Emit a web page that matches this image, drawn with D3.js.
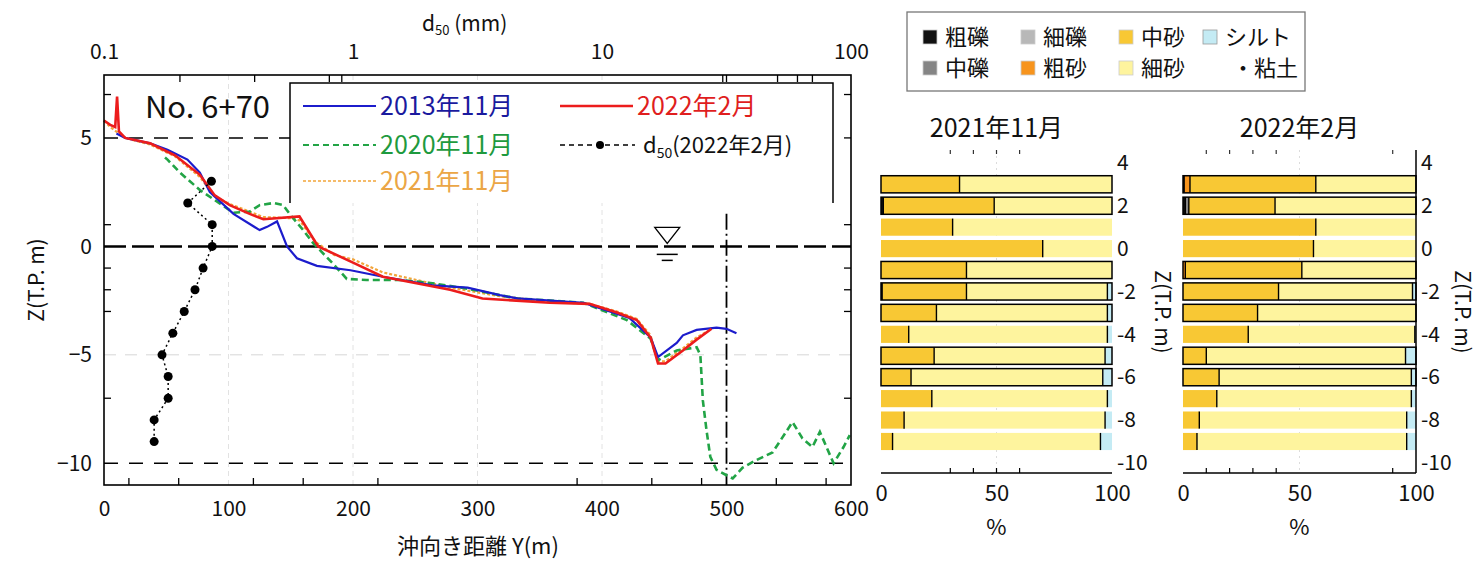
<!DOCTYPE html>
<html>
<head>
<meta charset="utf-8">
<script src="https://cdn.jsdelivr.net/npm/d3@7"></script>
<style>
  body { margin: 0; background: #fff; }
  svg { display: block; font-family: "Noto Sans CJK JP", sans-serif; }
</style>
</head>
<body>
<svg id="viz" width="1478" height="565"></svg>
<script>
// ---- cross-shore profiles: distance Y (m) and elevation Z (T.P. m) ----
const y2013 = [10, 17, 37, 51, 67, 77, 85, 104, 125, 131, 139, 147, 155, 171, 198, 224, 264, 292, 318, 332, 385, 422, 439, 445, 460, 465, 476, 492, 500, 508];
const z2013 = [5.2, 5.0, 4.75, 4.45, 4.0, 3.4, 2.5, 1.5, 0.75, 0.9, 1.15, 0.0, -0.55, -0.9, -1.1, -1.4, -1.8, -1.9, -2.25, -2.4, -2.6, -3.3, -4.2, -5.1, -4.45, -4.1, -3.85, -3.75, -3.8, -4.0];

const y2020 = [49, 51, 61, 77, 104, 117, 125, 136, 144, 149, 160, 168, 184, 195, 211, 238, 264, 292, 318, 332, 385, 420, 439, 445, 460, 476, 479, 481, 484, 487, 492, 500, 505, 513, 524, 537, 553, 561, 569, 575, 586, 594, 599];
const z2020 = [4.1, 4.0, 3.4, 2.6, 1.55, 1.6, 1.9, 2.0, 1.9, 1.5, 0.75, 0.15, -0.8, -1.5, -1.55, -1.55, -1.7, -1.95, -2.25, -2.4, -2.6, -3.4, -4.25, -5.25, -4.8, -4.65, -5.0, -7.1, -8.5, -9.7, -10.3, -10.55, -10.7, -10.2, -9.85, -9.5, -8.1, -8.85, -9.25, -8.55, -10.0, -9.25, -8.7];

const y2021 = [0, 5, 12, 17, 37, 57, 77, 89, 101, 117, 128, 150, 157, 170, 185, 200, 224, 251, 278, 318, 358, 390, 412, 428, 439, 445, 451, 465, 476, 485];
const z2021 = [5.8, 5.5, 5.2, 5.0, 4.7, 4.15, 3.2, 2.3, 1.95, 1.6, 1.35, 1.3, 1.2, 0.2, -0.4, -0.6, -1.2, -1.55, -1.9, -2.3, -2.55, -2.65, -3.0, -3.35, -4.1, -5.3, -5.3, -4.7, -4.2, -3.9];

const y2022 = [0, 5, 9, 10.5, 12, 17, 37, 57, 77, 89, 101, 117, 128, 157, 172, 200, 224, 251, 278, 304, 358, 390, 412, 428, 439, 445, 451, 465, 476, 488];
const z2022 = [5.8, 5.6, 5.5, 6.9, 5.3, 5.0, 4.75, 4.2, 3.3, 2.35, 1.9, 1.5, 1.25, 1.38, 0.0, -0.75, -1.4, -1.7, -2.0, -2.4, -2.6, -2.65, -3.05, -3.4, -4.2, -5.4, -5.4, -4.8, -4.3, -3.8];

// ---- median grain size d50 (mm), Feb 2022, by sampling depth ----
const sampleZ = [3, 2, 1, 0, -1, -2, -3, -4, -5, -6, -7, -8, -9];
const d50 = [0.27, 0.217, 0.272, 0.272, 0.25, 0.232, 0.21, 0.189, 0.171, 0.181, 0.181, 0.159, 0.159];

// ---- grain composition (%), same depths ----
const grainKeys = ['粗礫', '中礫', '細礫', '粗砂', '中砂', '細砂', 'シルト・粘土'];
const coarseGravel2111 = [0, 1, 0, 0, 0, 0.5, 0, 0, 0, 0, 0, 0, 0];
const mediumGravel2111 = [0, 0, 0, 0, 0, 0, 0, 0, 0, 0, 0, 0, 0];
const fineGravel2111   = [0, 0, 0, 0, 0, 0, 0, 0, 0, 0, 0, 0, 0];
const coarseSand2111   = [0, 0, 0, 0, 0, 0, 0, 0, 0, 0, 0, 0, 0];
const mediumSand2111   = [34, 48, 31, 70, 37, 36.5, 24, 12, 23, 13, 22, 10, 5];
const fineSand2111     = [66, 51, 69, 30, 63, 61, 74, 86, 74, 83, 76, 87, 90];
const silt2111         = [0, 0, 0, 0, 0, 2, 2, 2, 3, 4, 2, 3, 5];

const coarseGravel2202 = [0.5, 1, 0, 0, 0, 0, 0, 0, 0, 0, 0, 0, 0];
const mediumGravel2202 = [0, 1.5, 0, 0, 0, 0, 0, 0, 0, 0, 0, 0, 0];
const fineGravel2202   = [0, 0, 0, 0, 0, 0, 0, 0, 0, 0, 0, 0, 0];
const coarseSand2202   = [2.5, 0, 0, 0, 1, 0, 0, 0, 0, 0, 0, 0, 0];
const mediumSand2202   = [54, 37, 57, 56, 50, 41, 32, 28, 10, 15.5, 14.5, 7, 6];
const fineSand2202     = [43, 60.5, 43, 44, 49, 57.5, 68, 71.5, 85.5, 82.5, 83.5, 89, 90];
const silt2202         = [0, 0, 0, 0, 0, 1.5, 0, 0.5, 4.5, 2, 2, 4, 4];

// ---- tick values ----
const distTicks = [0, 100, 200, 300, 400, 500, 600];
const elevTicks = [5, 0, -5, -10];
const d50Ticks = [0.1, 1, 10, 100];
const bottomMinor = [20, 60, 120, 160, 220, 380, 440, 480, 540, 580];
const topMinor = [61, 121, 181, 191, 497, 500, 541, 557, 569];
const leftMinor = [7, 1, -1, -2, -3, -7];
const rightMinor = [7, 5, 1, -1, -2, -3, -7];
const pctTicks = [0, 50, 100];
const barZTicks = [4, 2, 0, -2, -4, -6, -8, -10];

const grainColor = {
  '粗礫': '#111111', '中礫': '#858585', '細礫': '#b8b8b8', '粗砂': '#f7941d',
  '中砂': '#f8c834', '細砂': '#fef49e', 'シルト・粘土': '#c4ebf4'
};

const svg = d3.select('#viz');
const FONT_NUM = '"Liberation Sans Narrow", "Noto Sans CJK JP", sans-serif';

// ================= left: profile chart =================
const x = d3.scaleLinear().domain([0, 600]).range([104, 851]);
const xd = d3.scaleLog().domain([0.1, 100]).range([104, 851]);
const y = d3.scaleLinear().domain([-11, 7.9]).range([485, 75]);
const plotTop = y.range()[1], plotBot = y.range()[0];

const grid = svg.append('g');
grid.selectAll('line').data([100, 200, 300, 400]).join('line')
  .attr('x1', d => x(d)).attr('x2', d => x(d)).attr('y1', plotTop).attr('y2', plotBot)
  .attr('stroke', '#e2e2e2').attr('stroke-dasharray', '5,4');
grid.append('line').attr('x1', x(0)).attr('x2', x(600)).attr('y1', y(-5)).attr('y2', y(-5))
  .attr('stroke', '#d6d6d6').attr('stroke-dasharray', '12,9');

// reference lines
svg.append('line').attr('x1', x(0)).attr('x2', x(600)).attr('y1', y(0)).attr('y2', y(0))
  .attr('stroke', '#000').attr('stroke-width', 2.5).attr('stroke-dasharray', '22,6');
svg.append('line').attr('x1', x(0)).attr('x2', x(600)).attr('y1', y(-10)).attr('y2', y(-10))
  .attr('stroke', '#000').attr('stroke-width', 1.5).attr('stroke-dasharray', '14,11');
svg.append('line').attr('x1', x(0)).attr('x2', x(150)).attr('y1', y(5)).attr('y2', y(5))
  .attr('stroke', '#000').attr('stroke-width', 1.5).attr('stroke-dasharray', '14,11');
svg.append('line').attr('x1', x(500)).attr('x2', x(500)).attr('y1', y(1.5)).attr('y2', plotBot)
  .attr('stroke', '#000').attr('stroke-width', 1.8).attr('stroke-dasharray', '16,4,2,4');

// water level mark
const wl = svg.append('g').attr('transform', `translate(${x(452)},${y(0)})`);
wl.append('path').attr('d', 'M-12,-19 L13,-19 L0.5,-3 Z').attr('fill', '#fff').attr('stroke', '#000').attr('stroke-width', 1.3);
wl.append('line').attr('x1', -10).attr('x2', 11).attr('y1', 8).attr('y2', 8).attr('stroke', '#000').attr('stroke-width', 1.5);
wl.append('line').attr('x1', -5).attr('x2', 6).attr('y1', 14).attr('y2', 14).attr('stroke', '#000').attr('stroke-width', 1.5);

// profile lines
const line = d3.line().x(d => x(d[0])).y(d => y(d[1]));
const series = [
  { Y: y2021, Z: z2021, color: '#f2a53a', width: 2.2, dash: '3,2' },
  { Y: y2020, Z: z2020, color: '#22a446', width: 2.6, dash: '7,4' },
  { Y: y2013, Z: z2013, color: '#1c1ccc', width: 2.2, dash: null },
  { Y: y2022, Z: z2022, color: '#ec1c1c', width: 2.6, dash: null }
];
svg.append('g').selectAll('path').data(series).join('path')
  .attr('d', s => line(d3.zip(s.Y, s.Z)))
  .attr('fill', 'none').attr('stroke', s => s.color).attr('stroke-width', s => s.width)
  .attr('stroke-dasharray', s => s.dash);

// d50 profile
const d50pts = d3.zip(d50, sampleZ);
svg.append('path').attr('d', d3.line().x(d => xd(d[0])).y(d => y(d[1]))(d50pts))
  .attr('fill', 'none').attr('stroke', '#000').attr('stroke-width', 1.5).attr('stroke-dasharray', '2,3');
svg.append('g').selectAll('circle').data(d50pts).join('circle')
  .attr('cx', d => xd(d[0])).attr('cy', d => y(d[1])).attr('r', 4.5).attr('fill', '#000');

// legend
const lg = svg.append('g');
lg.append('rect').attr('x', 290).attr('y', 83).attr('width', 543).attr('height', 120).attr('fill', '#fff');
lg.append('path').attr('d', 'M290,203 V83 H833 V203').attr('fill', 'none').attr('stroke', '#000').attr('stroke-width', 1.5);
const legendItems = [
  { label: '2013年11月', color: '#1c1ccc', text: '#1a1a9e', lx: 303, ly: 106, dash: null, w: 2 },
  { label: '2020年11月', color: '#22a446', text: '#1e9a3e', lx: 303, ly: 145, dash: '6,4', w: 2 },
  { label: '2021年11月', color: '#f2a53a', text: '#eba646', lx: 303, ly: 181, dash: '3,2', w: 1.6 },
  { label: '2022年2月', color: '#ec1c1c', text: '#e01e1e', lx: 560, ly: 106, dash: null, w: 2.5 }
];
legendItems.forEach(d => {
  lg.append('line').attr('x1', d.lx).attr('x2', d.lx + 73).attr('y1', d.ly).attr('y2', d.ly)
    .attr('stroke', d.color).attr('stroke-width', d.w).attr('stroke-dasharray', d.dash);
  lg.append('text').attr('x', d.lx + 77).attr('y', d.ly).attr('dy', '0.36em')
    .attr('font-size', 25).attr('fill', d.text).text(d.label);
});
lg.append('line').attr('x1', 560).attr('x2', 635).attr('y1', 145).attr('y2', 145)
  .attr('stroke', '#000').attr('stroke-width', 1.5).attr('stroke-dasharray', '5,4');
lg.append('circle').attr('cx', 600).attr('cy', 145).attr('r', 4).attr('fill', '#000');
const dl = lg.append('text').attr('x', 643).attr('y', 145).attr('dy', '0.36em').attr('font-size', 22).attr('fill', '#111');
dl.append('tspan').text('d');
dl.append('tspan').attr('font-size', 14).attr('dy', 5).text('50');
dl.append('tspan').attr('dy', -5).text('(2022年2月)');

svg.append('text').attr('x', 145).attr('y', 107).attr('dy', '0.36em').attr('font-size', 30)
  .attr('font-family', FONT_NUM).attr('textLength', 125).attr('lengthAdjust', 'spacingAndGlyphs')
  .attr('fill', '#111').text('No. 6+70');

// frame and axes
svg.append('rect').attr('x', x(0)).attr('y', plotTop).attr('width', x(600) - x(0)).attr('height', plotBot - plotTop)
  .attr('fill', 'none').attr('stroke', '#000').attr('stroke-width', 1.6);

function styleAxis(g, size) {
  g.select('.domain').remove();
  g.selectAll('text').attr('font-size', size).attr('font-family', FONT_NUM).attr('fill', '#111');
}
svg.append('g').attr('transform', `translate(0,${plotBot})`)
  .call(d3.axisBottom(x).tickValues(distTicks).tickSize(0).tickPadding(16).tickFormat(d3.format('d')))
  .call(g => styleAxis(g, 21));
svg.append('g').attr('transform', `translate(${x(0)},0)`)
  .call(d3.axisLeft(y).tickValues(elevTicks).tickSize(0).tickPadding(12).tickFormat(d3.format('d')))
  .call(g => styleAxis(g, 21));
svg.append('g').attr('transform', `translate(0,${plotTop})`)
  .call(d3.axisTop(xd).tickValues(d50Ticks).tickSize(0).tickPadding(16).tickFormat(d => d < 1 ? '0.1' : String(d)))
  .call(g => styleAxis(g, 21));

// minor inward ticks
const mt = svg.append('g').attr('stroke', '#000').attr('stroke-width', 1.3);
mt.selectAll('.b').data(bottomMinor).join('line').attr('x1', d => x(d)).attr('x2', d => x(d)).attr('y1', plotBot).attr('y2', plotBot - 7);
mt.selectAll('.t').data(topMinor).join('line').attr('x1', d => x(d)).attr('x2', d => x(d)).attr('y1', plotTop).attr('y2', plotTop + 7);
mt.selectAll('.l').data(leftMinor).join('line').attr('x1', x(0)).attr('x2', x(0) + 7).attr('y1', d => y(d)).attr('y2', d => y(d));
mt.selectAll('.r').data(rightMinor).join('line').attr('x1', x(600)).attr('x2', x(600) - 7).attr('y1', d => y(d)).attr('y2', d => y(d));

// titles
const t50 = svg.append('text').attr('x', 422).attr('y', 31).attr('font-size', 21).attr('fill', '#111');
t50.append('tspan').text('d');
t50.append('tspan').attr('font-size', 13).attr('dy', 4).text('50');
t50.append('tspan').attr('dy', -4).text('  (mm)');
svg.append('text').attr('x', 478).attr('y', 546).attr('dy', '0.36em').attr('text-anchor', 'middle')
  .attr('font-size', 22).attr('fill', '#111').text('沖向き距離 Y(m)');
svg.append('text').attr('transform', 'translate(36,280) rotate(-90)').attr('dy', '0.36em').attr('text-anchor', 'middle')
  .attr('font-size', 21).attr('fill', '#111').text('Z(T.P. m)');

// ================= right: composition bars =================
const yb = d3.scaleLinear().domain([-10.47, 4.6]).range([473, 150]);
const stack = d3.stack().keys(grainKeys);
const boxedDepths = [3, 2, -1, -2, -3, -5, -6];

function composition(cols) {
  return sampleZ.map((z, i) => {
    const row = { z };
    grainKeys.forEach((k, j) => { row[k] = cols[j][i]; });
    return row;
  });
}

function barChart(rows, x0, x1, title, minor, showAxisLine, labelX) {
  const xb = d3.scaleLinear().domain([0, 100]).range([x0, x1]);
  const g = svg.append('g');
  g.append('line').attr('x1', xb(50)).attr('x2', xb(50)).attr('y1', 150).attr('y2', 473)
    .attr('stroke', '#dcdcdc').attr('stroke-dasharray', '2,4');
  const layers = stack(rows);
  const bh = yb(0) - yb(0.8);
  g.selectAll('.layer').data(layers).join('g').attr('fill', l => grainColor[l.key])
    .selectAll('rect').data(l => l).join('rect')
    .attr('x', d => xb(d[0])).attr('width', d => xb(d[1]) - xb(d[0]))
    .attr('y', d => yb(d.data.z) - bh / 2).attr('height', bh);
  // segment separators
  rows.forEach(r => {
    let acc = 0;
    const ends = [];
    grainKeys.forEach(k => { acc += r[k]; if (r[k] > 0) ends.push(acc); });
    ends.slice(0, -1).forEach(e => {
      g.append('line').attr('x1', xb(e)).attr('x2', xb(e))
        .attr('y1', yb(r.z) - bh / 2).attr('y2', yb(r.z) + bh / 2)
        .attr('stroke', '#000').attr('stroke-width', 1.4);
    });
    if (boxedDepths.includes(r.z)) {
      g.append('rect').attr('x', xb(0)).attr('width', xb(100) - xb(0))
        .attr('y', yb(r.z) - bh / 2).attr('height', bh)
        .attr('fill', 'none').attr('stroke', '#000').attr('stroke-width', 1.5);
    }
  });
  g.append('line').attr('x1', xb(0)).attr('x2', xb(100)).attr('y1', 473).attr('y2', 473)
    .attr('stroke', '#000').attr('stroke-width', 1.5);
  if (showAxisLine) {
    g.append('line').attr('x1', xb(100)).attr('x2', xb(100)).attr('y1', 150).attr('y2', 473)
      .attr('stroke', '#000').attr('stroke-width', 1.5);
  }
  g.selectAll('.mb').data(minor).join('line').attr('x1', d => xb(d)).attr('x2', d => xb(d))
    .attr('y1', 473).attr('y2', 468).attr('stroke', '#000').attr('stroke-width', 1.2);
  g.selectAll('.mt').data(minor).join('line').attr('x1', d => xb(d)).attr('x2', d => xb(d))
    .attr('y1', 150).attr('y2', 154).attr('stroke', '#333').attr('stroke-width', 1.2);

  g.append('g').attr('transform', 'translate(0,473)')
    .call(d3.axisBottom(xb).tickValues(pctTicks).tickSize(0).tickPadding(12).tickFormat(d3.format('d')))
    .call(a => styleAxis(a, 22));
  g.append('g').attr('transform', `translate(${xb(100)},0)`)
    .call(d3.axisRight(yb).tickValues(barZTicks).tickSize(0).tickPadding(5).tickFormat(d => String(d)))
    .call(a => styleAxis(a, 21));
  g.append('text').attr('x', (x0 + x1) / 2).attr('y', 527).attr('dy', '0.36em').attr('text-anchor', 'middle')
    .attr('font-size', 22).attr('fill', '#111').text('%');
  g.append('text').attr('x', (x0 + x1) / 2).attr('y', 128).attr('dy', '0.36em').attr('text-anchor', 'middle')
    .attr('font-size', 25).attr('fill', '#111').text(title);
  g.append('text').attr('transform', `translate(${labelX},312) rotate(90)`).attr('dy', '0.36em')
    .attr('text-anchor', 'middle').attr('font-size', 21).attr('fill', '#111').text('Z(T.P. m)');
}

barChart(composition([coarseGravel2111, mediumGravel2111, fineGravel2111, coarseSand2111, mediumSand2111, fineSand2111, silt2111]),
  881, 1112, '2021年11月', [30, 40, 50, 60], false, 1163);
barChart(composition([coarseGravel2202, mediumGravel2202, fineGravel2202, coarseSand2202, mediumSand2202, fineSand2202, silt2202]),
  1183, 1416, '2022年2月', [10, 20, 30, 40, 90], true, 1463);

// grain legend
const gl = svg.append('g');
gl.append('rect').attr('x', 907).attr('y', 12).attr('width', 398).attr('height', 79)
  .attr('fill', '#fff').attr('stroke', '#777').attr('stroke-width', 1.3);
const legendPos = [
  { k: '粗礫', sx: 923, row: 0 }, { k: '細礫', sx: 1021, row: 0 }, { k: '中砂', sx: 1119, row: 0 }, { k: 'シルト・粘土', sx: 1203, row: 0 },
  { k: '中礫', sx: 923, row: 1 }, { k: '粗砂', sx: 1021, row: 1 }, { k: '細砂', sx: 1119, row: 1 }
];
legendPos.forEach(p => {
  const cy = p.row === 0 ? 37 : 68;
  gl.append('rect').attr('x', p.sx).attr('y', cy - 7).attr('width', 14).attr('height', 14)
    .attr('fill', grainColor[p.k]).attr('stroke', p.k === 'シルト・粘土' ? '#999' : '#ccc').attr('stroke-width', 0.8);
  const label = p.k === 'シルト・粘土' ? 'シルト' : p.k;
  gl.append('text').attr('x', p.sx + 22).attr('y', cy).attr('dy', '0.36em').attr('font-size', 22)
    .attr('fill', '#111').text(label);
});
gl.append('text').attr('x', 1298).attr('y', 68).attr('dy', '0.36em').attr('text-anchor', 'end')
  .attr('font-size', 22).attr('fill', '#111').text('・粘土');
</script>
</body>
</html>
